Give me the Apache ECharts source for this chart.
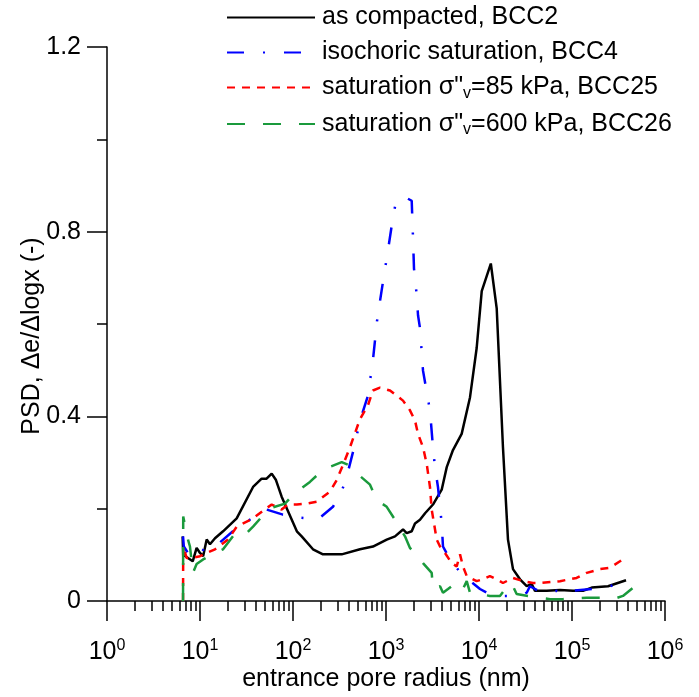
<!DOCTYPE html>
<html>
<head>
<meta charset="utf-8">
<title>PSD</title>
<script src="https://cdn.jsdelivr.net/npm/echarts@6/dist/echarts.min.js"></script>
</head>
<body style="margin:0">
<div id="main" style="width:699px;height:697px;"></div>
<script>
// series names (legend order)
var seriesNames = ['as compacted, BCC2', 'isochoric saturation, BCC4',
    'saturation σ"v=85 kPa, BCC25', 'saturation σ"v=600 kPa, BCC26'];

// entrance pore radius (nm) and PSD values
var compactedR = [6.5, 6.6, 8.35, 9.2, 10, 10.8, 11.8, 12.8, 14.5, 17.7, 24.8, 37.2, 46, 52, 59, 65.6, 75.5, 110, 124, 164, 210, 334, 525, 724, 1018, 1250, 1524, 1670, 1890, 2050, 2320, 2630, 3200, 3970, 4500, 5250, 6510, 8000, 9440, 10700, 13400, 15500, 18100, 20500, 23200, 27600, 32600, 36900, 40000, 53500, 74300, 102500, 131000, 163000, 244000, 381000];
var compactedY = [0.14, 0.10, 0.086, 0.115, 0.104, 0.097, 0.133, 0.123, 0.136, 0.151, 0.179, 0.247, 0.265, 0.265, 0.276, 0.262, 0.226, 0.151, 0.140, 0.112, 0.101, 0.101, 0.112, 0.118, 0.133, 0.140, 0.155, 0.147, 0.151, 0.168, 0.176, 0.190, 0.209, 0.241, 0.290, 0.327, 0.362, 0.441, 0.548, 0.671, 0.731, 0.634, 0.333, 0.133, 0.069, 0.047, 0.032, 0.037, 0.022, 0.022, 0.024, 0.022, 0.022, 0.029, 0.032, 0.045];

var isochoricR = [6.57, 6.7, 7.8, 10.4, 11.3, 16.4, 24.8, 31.8, 52, 78, 97, 113, 186, 269, 334, 390, 442, 484, 548, 640, 725, 800, 861, 929, 1077, 1160, 1250, 1523, 1890, 1950, 2000, 2140, 2210, 2320, 2500, 2690, 2970, 3200, 3360, 3620, 3970, 4100, 4880, 6510, 10250, 12100, 17500, 27600, 32600, 35300, 47100, 68400, 87700, 99300, 163000, 256000, 371000];
var isochoricY = [0.140, 0.118, 0.097, 0.104, 0.118, 0.127, 0.158, 0.172, 0.198, 0.187, 0.187, 0.181, 0.177, 0.204, 0.237, 0.280, 0.323, 0.359, 0.402, 0.445, 0.523, 0.606, 0.649, 0.692, 0.774, 0.817, 0.854, 0.877, 0.867, 0.789, 0.720, 0.662, 0.619, 0.591, 0.499, 0.462, 0.413, 0.333, 0.290, 0.247, 0.168, 0.118, 0.090, 0.058, 0.026, 0.018, 0.011, 0.011, 0.018, 0.032, 0.018, 0.022, 0.015, 0.022, 0.026, 0.032, 0.041];

var sat85R = [6.57, 6.6, 7.2, 8.1, 10, 11.8, 14.5, 20, 24.8, 37.2, 52, 59, 75.5, 88, 110, 140, 180, 250, 295, 345, 410, 525, 640, 724, 861, 1104, 1524, 1810, 2050, 2210, 2500, 2740, 2970, 3100, 3510, 3810, 4310, 5090, 5760, 6250, 6730, 7380, 9440, 11000, 13100, 15500, 18100, 23200, 29700, 38100, 45300, 74300, 112000, 144000, 200000, 256000, 328000, 387000];
var sat85Y = [0, 0.118, 0.093, 0.093, 0.097, 0.104, 0.112, 0.133, 0.161, 0.179, 0.201, 0.209, 0.198, 0.209, 0.209, 0.211, 0.215, 0.237, 0.262, 0.295, 0.333, 0.394, 0.424, 0.456, 0.462, 0.456, 0.434, 0.413, 0.391, 0.362, 0.333, 0.297, 0.247, 0.198, 0.133, 0.118, 0.104, 0.082, 0.075, 0.101, 0.075, 0.054, 0.043, 0.047, 0.054, 0.047, 0.039, 0.050, 0.043, 0.039, 0.039, 0.043, 0.050, 0.061, 0.069, 0.072, 0.086, 0.097];

var sat600R = [6.57, 6.6, 7.43, 7.8, 8.4, 9.2, 10.8, 14.5, 17.7, 24.8, 31.8, 37.2, 52, 56.6, 82, 100, 152, 210, 334, 390, 442, 673, 794, 1018, 1250, 1600, 1810, 2500, 3100, 3200, 3810, 4100, 4640, 5090, 5940, 6730, 7380, 8000, 10250, 13100, 16800, 21500, 23200, 25400, 33600, 45300, 58000, 80000, 144000, 200000, 276000, 353000, 476000];
var sat600Y = [0, 0.183, 0.133, 0.118, 0.061, 0.080, 0.090, 0.104, 0.112, 0.151, 0.147, 0.161, 0.194, 0.201, 0.211, 0.230, 0.258, 0.284, 0.301, 0.295, 0.284, 0.252, 0.219, 0.204, 0.176, 0.140, 0.115, 0.082, 0.061, 0.026, 0.032, 0.018, 0.026, 0.032, 0.018, 0.026, 0.043, 0.018, 0.015, 0.011, 0.011, 0.039, 0.032, 0.015, 0.011, 0.007, 0.004, 0.004, 0.007, 0.007, 0.004, 0.011, 0.032];

function zip(xs, ys) {
    var out = [];
    for (var i = 0; i < xs.length; i++) out.push([xs[i], ys[i]]);
    return out;
}

// minor ticks of the log axis at 2..9 x 10^n (drawn on a helper axis in log10 units)
var minorTicks = [];
for (var n = 0; n < 6; n++) {
    for (var k = 2; k <= 9; k++) minorTicks.push(Math.log10(k * Math.pow(10, n)));
}

var font = 'Liberation Sans, Arial, sans-serif';
var black = '#000';

var chart = echarts.init(document.getElementById('main'));

function lineSeries(name, data, color, type) {
    return {
        name: name,
        type: 'line',
        data: data,
        symbol: 'none',
        showSymbol: false,
        lineStyle: { color: color, width: 2.5, type: type },
        itemStyle: { color: color },
        z: 3
    };
}

var option = {
    animation: false,
    textStyle: { fontFamily: font },
    grid: { left: 107, right: 34, top: 47, bottom: 92 },
    legend: {
        orient: 'vertical',
        left: 221,
        top: 0,
        itemWidth: 88,
        itemHeight: 14,
        itemGap: 10,
        data: seriesNames,
        itemStyle: { opacity: 0 },
        formatter: function (name) {
            var p = name.split('σ"v');
            if (p.length < 2) return '{t|' + name + '}';
            return '{t|' + p[0] + 'σ"}{sub|v}{t|' + p[1] + '}';
        },
        textStyle: {
            fontSize: 25, color: black, fontFamily: font, padding: [0, 0, 0, 2],
            rich: {
                t: { fontSize: 25, color: black, fontFamily: font },
                sub: { fontSize: 16, color: black, fontFamily: font, padding: [12, 0, 0, 0] }
            }
        }
    },
    xAxis: [{
        type: 'log',
        logBase: 10,
        min: 1,
        max: 1e6,
        name: 'entrance pore radius (nm)',
        nameLocation: 'middle',
        nameGap: 66,
        nameMoveOverlap: false,
        nameTextStyle: { fontSize: 25, color: black },
        axisLine: { lineStyle: { color: black, width: 1.5 } },
        axisTick: { inside: false, length: 20, lineStyle: { color: black, width: 1.5 } },
        splitLine: { show: false },
        axisLabel: {
            margin: 37,
            color: black,
            fontSize: 25,
            formatter: function (v) {
                return '10{sup|' + Math.round(Math.log10(v)) + '}';
            },
            rich: { sup: { fontSize: 16, color: black, padding: [0, 0, 12, 0] } }
        }
    }, {
        type: 'value',
        position: 'bottom',
        min: 0,
        max: 6,
        axisLine: { show: false },
        axisLabel: { show: false },
        splitLine: { show: false },
        axisTick: { show: true, inside: false, length: 10, customValues: minorTicks, lineStyle: { color: black, width: 1.5 } }
    }],
    yAxis: {
        type: 'value',
        min: 0,
        max: 1.2,
        interval: 0.4,
        name: 'PSD, Δe/Δlogx (-)',
        nameLocation: 'middle',
        nameGap: 62,
        nameMoveOverlap: false,
        nameTextStyle: { fontSize: 25, color: black, padding: [0, 24, 0, 0] },
        axisLine: { show: true, lineStyle: { color: black, width: 1.5 } },
        axisTick: { show: true, inside: false, length: 20, lineStyle: { color: black, width: 1.5 } },
        minorTick: { show: true, splitNumber: 2, length: 10, lineStyle: { color: black, width: 1.5 } },
        splitLine: { show: false },
        minorSplitLine: { show: false },
        axisLabel: { margin: 26, color: black, fontSize: 25 }
    },
    series: [
        lineSeries(seriesNames[0], zip(compactedR, compactedY), '#000000', 'solid'),
        lineSeries(seriesNames[1], zip(isochoricR, isochoricY), '#0000ff', [17, 19, 2, 19]),
        lineSeries(seriesNames[2], zip(sat85R, sat85Y), '#ff0000', [8, 7]),
        lineSeries(seriesNames[3], zip(sat600R, sat600Y), '#1a9a3c', [18, 18])
    ]
};

chart.setOption(option);
</script>
</body>
</html>
